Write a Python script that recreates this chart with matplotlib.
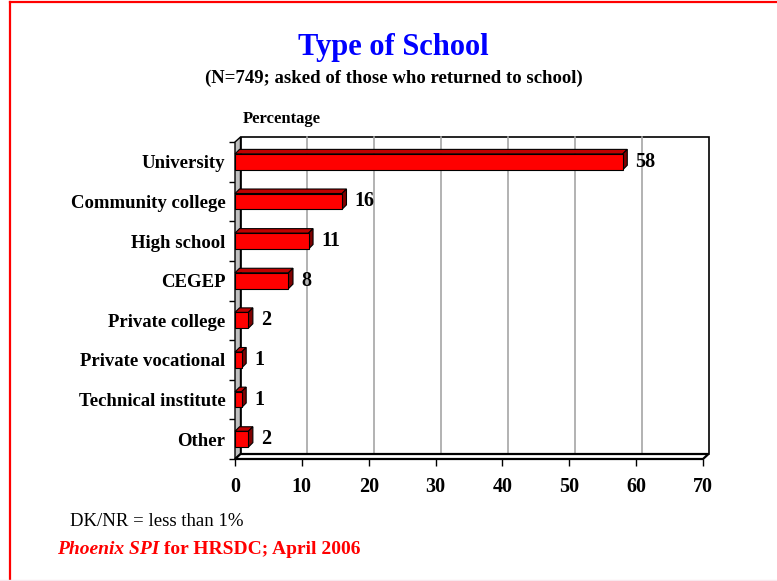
import numpy as np
import matplotlib
matplotlib.use("Agg")
import matplotlib.pyplot as plt
from matplotlib import transforms
from matplotlib.patches import Polygon, Rectangle
from matplotlib.lines import Line2D

plt.rcParams['font.family'] = ['Liberation Serif', 'DejaVu Serif']

categories = ["University", "Community college", "High school", "CEGEP",
              "Private college", "Private vocational", "Technical institute", "Other"]
values = [58, 16, 11, 8, 2, 1, 1, 2]
x_ticks = [0, 10, 20, 30, 40, 50, 60, 70]

W, H = 777, 581
fig = plt.figure(figsize=(W / 100, H / 100), dpi=100)

def px_box(left, top, right, bottom):
    return [left / W, (H - bottom) / H, (right - left) / W, (bottom - top) / H]

ax = fig.add_axes(px_box(235, 142, 703, 459))
ax.set_xlim(0, 70)
ax.set_ylim(7.5, -0.5)

# depth offsets for the 3-D look
wall = ax.transData + transforms.ScaledTranslation(0.055, 0.05, fig.dpi_scale_trans)
bar_depth = transforms.ScaledTranslation(0.045, 0.045, fig.dpi_scale_trans)
ident = transforms.IdentityTransform()

# back wall + gridlines
ax.add_patch(Rectangle((0, -0.5), 70, 8, transform=wall, facecolor="white",
                       edgecolor="black", lw=1.2, zorder=0, clip_on=False))
for t in x_ticks[1:-1]:
    ax.add_line(Line2D([t, t], [-0.5, 7.5], transform=wall, color="#a6a6a6",
                       lw=1.2, zorder=1, clip_on=False))
    a = ax.transData.transform((t, 7.5))
    b = wall.transform((t, 7.5))
    ax.add_line(Line2D([a[0], b[0]], [a[1], b[1]], transform=ident,
                       color="#a6a6a6", lw=1.0, zorder=1, clip_on=False))

# left side wall
front_left = ax.transData.transform([(0, -0.5), (0, 7.5)])
back_left = wall.transform([(0, 7.5), (0, -0.5)])
ax.add_patch(Polygon(np.vstack([front_left, back_left]), closed=True,
                     transform=ident, facecolor="#c0c0c0", edgecolor="black",
                     lw=1.0, zorder=2, clip_on=False))

# floor
front_bot = ax.transData.transform([(0, 7.5), (70, 7.5)])
back_bot = wall.transform([(70, 7.5), (0, 7.5)])
ax.add_patch(Polygon(np.vstack([front_bot, back_bot]), closed=True,
                     transform=ident, facecolor="white", edgecolor="black",
                     lw=1.6, zorder=2, clip_on=False))

# bars
bh = 0.4
deep = ax.transData + bar_depth
for i, v in enumerate(values):
    top, bot = i - bh / 2, i + bh / 2
    f = ax.transData.transform([(0, top), (v, top), (v, bot), (0, bot)])
    b = deep.transform([(0, top), (v, top), (v, bot), (0, bot)])
    top_face = np.array([f[0], f[1], b[1], b[0]])
    side_face = np.array([f[1], f[2], b[2], b[1]])
    ax.add_patch(Polygon(top_face, closed=True, transform=ident,
                         facecolor="#c00000", edgecolor="black", lw=0.8,
                         zorder=3, clip_on=False))
    ax.add_patch(Polygon(side_face, closed=True, transform=ident,
                         facecolor="#800000", edgecolor="black", lw=0.8,
                         zorder=3, clip_on=False))
    ax.add_patch(Rectangle((0, top), v, bh, facecolor="#ff0000",
                           edgecolor="black", lw=0.8, zorder=4, clip_on=False))
    ax.annotate(str(v), xy=(v, i), xytext=(9, 0), textcoords="offset points",
                ha="left", va="center", fontsize=14.5, fontweight="bold",
                zorder=5)

for s in ax.spines.values():
    s.set_visible(False)

ax.set_xticks(x_ticks)
ax.set_xticklabels([str(t) for t in x_ticks], fontsize=14.5, fontweight="bold")
ax.set_yticks(np.arange(-0.5, 8, 1))
ax.set_yticklabels([])
ax.set_yticks(np.arange(len(categories)), minor=True)
ax.set_yticklabels(categories, minor=True, fontsize=13.5, fontweight="bold")
ax.tick_params(axis="y", which="major", length=4, width=1, direction="out")
ax.tick_params(axis="y", which="minor", length=0, pad=7)
ax.tick_params(axis="x", length=5, width=1, direction="out", pad=8)

# titles and notes
fig.text(393 / W, 1 - 47 / H, "Type of School", ha="center", va="center",
         fontsize=22, fontweight="bold", color="#0000ff")
fig.text(394 / W, 1 - 78 / H, "(N=749; asked of those who returned to school)",
         ha="center", va="center", fontsize=13.5, fontweight="bold")
fig.text(243 / W, 1 - 119 / H, "Percentage", ha="left", va="center",
         fontsize=12, fontweight="bold")
fig.text(70 / W, 1 - 521 / H, "DK/NR = less than 1%", ha="left", va="center",
         fontsize=13.5)
t1 = fig.text(57 / W, 1 - 549 / H, "Phoenix SPI", ha="left", va="center",
              fontsize=14, fontweight="bold", style="italic", color="#ff0000")
fig.canvas.draw()
ext = t1.get_window_extent()
fig.text(ext.x1 / W, 1 - 549 / H, " for HRSDC; April 2006", ha="left",
         va="center", fontsize=14, fontweight="bold", color="#ff0000")

# slide border
fig.add_artist(Line2D([9.5 / W, 9.5 / W], [0, 1 - 2 / H], transform=fig.transFigure,
                      color="#ff0000", lw=1.6))
fig.add_artist(Line2D([9.5 / W, 1], [1 - 2 / H, 1 - 2 / H], transform=fig.transFigure,
                      color="#ff0000", lw=1.6))
fig.add_artist(Line2D([0, 1], [1.5 / H, 1.5 / H], transform=fig.transFigure,
                      color="#f8e8ee", lw=1.0))

fig.savefig("out.png", dpi=100)
